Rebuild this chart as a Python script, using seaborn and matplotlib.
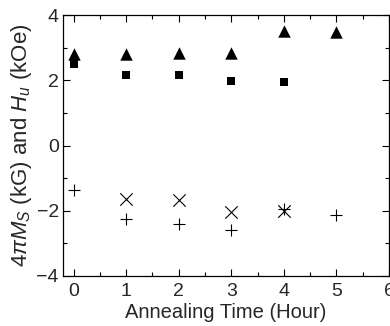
import matplotlib
matplotlib.use("Agg")
import matplotlib.pyplot as plt
from matplotlib.ticker import MultipleLocator
import seaborn as sns
import pandas as pd

sns.set_style("ticks")
plt.rcParams['font.family'] = ['Liberation Sans', 'DejaVu Sans']
plt.rcParams['mathtext.fontset'] = 'custom'
plt.rcParams['mathtext.rm'] = 'Liberation Sans'
plt.rcParams['mathtext.it'] = 'Liberation Sans:italic'

# Data
tri_x = [0, 1, 2, 3, 4, 5]
tri_y = [2.80, 2.80, 2.82, 2.85, 3.50, 3.47]
sq_x = [0, 1, 2, 3, 4]
sq_y = [2.51, 2.16, 2.16, 1.98, 1.96]
plus_x = [0, 1, 2, 3, 4, 5]
plus_y = [-1.37, -2.24, -2.41, -2.60, -1.95, -2.14]
cross_x = [1, 2, 3, 4]
cross_y = [-1.65, -1.66, -2.04, -2.00]

fig = plt.figure(figsize=(3.9, 3.26), dpi=100)
ax = fig.add_axes([63/390, 50/326, 326/390, 261/326])

sns.scatterplot(x=tri_x, y=tri_y, marker='^', s=80, color='black', edgecolor='black', linewidth=0, ax=ax)
sns.scatterplot(x=sq_x, y=sq_y, marker='s', s=40, color='black', edgecolor='black', linewidth=0, ax=ax)
sns.scatterplot(x=plus_x, y=plus_y, marker='+', s=70, color='black', linewidth=0.8, ax=ax)
sns.scatterplot(x=cross_x, y=cross_y, marker='x', s=80, color='black', linewidth=0.8, ax=ax)

ax.set_xlim(-0.2, 6)
ax.set_ylim(-4, 4)
ax.xaxis.set_major_locator(MultipleLocator(1))
ax.xaxis.set_minor_locator(MultipleLocator(0.5))
ax.yaxis.set_major_locator(MultipleLocator(2))
ax.yaxis.set_minor_locator(MultipleLocator(1))
ax.tick_params(which='both', direction='in', top=True, right=True, labelsize=14, width=0.8, color='black')
ax.tick_params(axis='x', pad=5)
ax.tick_params(axis='y', pad=3)
ax.tick_params(which='major', length=5)
ax.tick_params(which='minor', length=3)
for sp in ax.spines.values():
    sp.set_color('black')
    sp.set_linewidth(0.9)

ax.set_xlabel('Annealing Time (Hour)', fontsize=14.5, labelpad=2)
ax.set_ylabel(r'$4\pi M_S$ (kG) and $H_u$ (kOe)', fontsize=16, labelpad=2)

fig.savefig('out.png', dpi=100)
